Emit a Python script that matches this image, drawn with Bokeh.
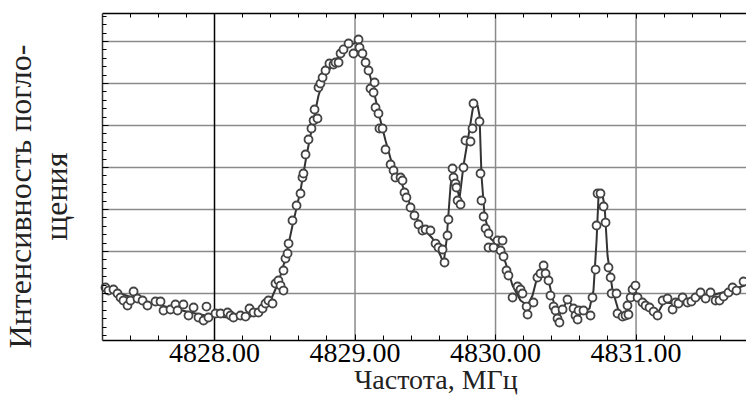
import math
from bokeh.plotting import figure
from bokeh.models import FixedTicker, LinearAxis, Range1d
from bokeh.core.properties import value
from bokeh.embed import file_html
from bokeh.resources import INLINE

# Measured points (frequency in MHz, intensity in arbitrary units)
pts_x = [4827.224, 4827.246, 4827.281, 4827.310, 4827.331, 4827.352, 4827.381, 4827.402, 4827.424, 4827.452,
         4827.488, 4827.523, 4827.580, 4827.616, 4827.637, 4827.687, 4827.722, 4827.737, 4827.779, 4827.815,
         4827.851, 4827.886, 4827.922, 4827.943, 4827.957, 4828.007, 4828.043, 4828.093, 4828.114, 4828.135,
         4828.185, 4828.221, 4828.249, 4828.278, 4828.313, 4828.342, 4828.363, 4828.384, 4828.413, 4828.434,
         4828.455, 4828.470, 4828.491, 4828.491, 4828.505, 4828.520, 4828.527, 4828.555, 4828.584, 4828.612,
         4828.626, 4828.633, 4828.648, 4828.669, 4828.690, 4828.705, 4828.733, 4828.712, 4828.740, 4828.754,
         4828.769, 4828.790, 4828.818, 4828.847, 4828.861, 4828.883, 4828.897, 4828.918, 4828.954, 4828.989,
         4829.025, 4829.032, 4829.053, 4829.075, 4829.096, 4829.110, 4829.139, 4829.132, 4829.146, 4829.167,
         4829.174, 4829.196, 4829.217, 4829.253, 4829.274, 4829.288, 4829.324, 4829.338, 4829.352, 4829.366,
         4829.395, 4829.423, 4829.452, 4829.480, 4829.502, 4829.537, 4829.573, 4829.594, 4829.623, 4829.637,
         4829.658, 4829.665, 4829.694, 4829.701, 4829.715, 4829.722, 4829.730, 4829.751, 4829.772, 4829.786,
         4829.822, 4829.836, 4829.843, 4829.886, 4829.893, 4829.900, 4829.915, 4829.929, 4829.950, 4829.950,
         4829.986, 4830.014, 4830.050, 4830.036, 4830.057, 4830.078, 4830.092, 4830.121, 4830.157, 4830.178,
         4830.192, 4830.221, 4830.228, 4830.270, 4830.298, 4830.320, 4830.342, 4830.356, 4830.377, 4830.391,
         4830.413, 4830.427, 4830.441, 4830.455, 4830.477, 4830.512, 4830.555, 4830.569, 4830.584, 4830.591,
         4830.626, 4830.676, 4830.690, 4830.712, 4830.719, 4830.726, 4830.747, 4830.769, 4830.783, 4830.804,
         4830.819, 4830.826, 4830.861, 4830.868, 4830.904, 4830.925, 4830.946, 4830.939, 4830.961, 4830.975,
         4830.996, 4831.011, 4831.046, 4831.068, 4831.096, 4831.125, 4831.153, 4831.189, 4831.224, 4831.260,
         4831.281, 4831.302, 4831.331, 4831.366, 4831.394, 4831.423, 4831.459, 4831.495, 4831.530, 4831.566,
         4831.594, 4831.623, 4831.658, 4831.687, 4831.715, 4831.765]
pts_y = [1.143, 1.071, 1.095, 1.000, 0.905, 0.833, 0.714, 0.833, 1.048, 0.881,
         0.833, 0.714, 0.810, 0.810, 0.595, 0.619, 0.738, 0.595, 0.738, 0.476,
         0.667, 0.429, 0.357, 0.690, 0.429, 0.524, 0.524, 0.548, 0.476, 0.429,
         0.476, 0.452, 0.643, 0.548, 0.548, 0.643, 0.762, 0.833, 0.762, 1.238,
         1.310, 1.190, 1.071, 1.548, 1.833, 1.952, 2.190, 2.738, 3.095, 3.381,
         3.762, 3.857, 4.310, 4.667, 4.929, 5.119, 5.167, 5.381, 5.905, 6.000,
         6.143, 6.310, 6.476, 6.452, 6.500, 6.500, 6.714, 6.810, 6.952, 6.714,
         7.048, 6.857, 6.714, 6.500, 6.310, 5.881, 6.024, 5.786, 5.429, 5.286,
         4.929, 4.929, 4.429, 4.071, 3.929, 3.762, 3.762, 3.690, 3.405, 3.286,
         3.048, 2.857, 2.643, 2.500, 2.524, 2.500, 2.190, 2.095, 2.048, 1.738,
         2.381, 2.762, 3.976, 3.762, 3.619, 3.524, 3.214, 3.119, 4.000, 4.643,
         4.619, 4.929, 5.524, 5.095, 3.857, 3.214, 2.833, 2.548, 2.429, 2.095,
         2.095, 2.262, 2.262, 2.024, 1.881, 1.548, 1.429, 0.905, 1.167, 1.095,
         1.000, 0.690, 0.500, 0.786, 1.381, 1.476, 1.667, 1.476, 1.310, 0.952,
         0.690, 0.595, 0.405, 0.310, 0.619, 0.857, 0.643, 0.476, 0.381, 0.595,
         0.595, 0.476, 0.905, 1.571, 2.619, 3.381, 3.381, 3.071, 2.690, 1.619,
         1.381, 1.000, 1.000, 0.524, 0.452, 0.476, 0.500, 0.714, 0.905, 1.095,
         1.190, 0.905, 0.786, 0.714, 0.667, 0.571, 0.476, 0.833, 0.881, 0.619,
         0.786, 0.762, 0.905, 0.786, 0.810, 0.905, 1.024, 0.881, 1.024, 0.833,
         0.833, 0.929, 1.024, 1.143, 1.071, 1.286]

# Smoothed curve through the points
fit_x = [4827.203, 4827.331, 4827.473, 4827.651, 4827.829, 4827.972, 4828.114, 4828.256, 4828.342, 4828.399,
         4828.455, 4828.505, 4828.555, 4828.612, 4828.655, 4828.697, 4828.740, 4828.790, 4828.861, 4828.932,
         4829.004, 4829.039, 4829.082, 4829.125, 4829.167, 4829.217, 4829.267, 4829.324, 4829.395, 4829.466,
         4829.552, 4829.608, 4829.630, 4829.651, 4829.680, 4829.701, 4829.722, 4829.744, 4829.772, 4829.808,
         4829.836, 4829.851, 4829.872, 4829.886, 4829.900, 4829.922, 4829.964, 4830.021, 4830.071, 4830.121,
         4830.178, 4830.228, 4830.263, 4830.298, 4830.335, 4830.370, 4830.406, 4830.448, 4830.477, 4830.512,
         4830.548, 4830.584, 4830.626, 4830.669, 4830.697, 4830.719, 4830.733, 4830.754, 4830.776, 4830.797,
         4830.833, 4830.875, 4830.918, 4830.954, 4830.989, 4831.032, 4831.103, 4831.153, 4831.196, 4831.281,
         4831.388, 4831.530, 4831.673, 4831.786]
fit_y = [1.143, 1.000, 0.833, 0.690, 0.548, 0.452, 0.429, 0.452, 0.595, 0.833,
         1.262, 1.833, 2.619, 3.452, 4.286, 5.000, 5.714, 6.190, 6.548, 6.833,
         6.976, 6.905, 6.500, 5.952, 5.310, 4.643, 4.048, 3.690, 3.095, 2.619,
         2.310, 1.905, 1.714, 2.262, 3.571, 3.976, 3.571, 3.262, 4.048, 4.762,
         5.357, 5.595, 5.476, 5.238, 3.810, 2.857, 2.310, 2.143, 1.738, 1.190,
         0.833, 0.714, 0.952, 1.405, 1.595, 1.429, 0.881, 0.452, 0.595, 0.881,
         0.690, 0.452, 0.548, 0.643, 1.071, 2.262, 3.333, 3.452, 3.095, 1.905,
         1.071, 0.595, 0.476, 0.786, 1.071, 0.881, 0.643, 0.524, 0.786, 0.762,
         0.833, 0.952, 1.071, 1.210]

x_ticks = [4828, 4829, 4830, 4831]
x_tick_labels = ["4828.00", "4829.00", "4830.00", "4831.00"]
y_ticks = [1, 2, 3, 4, 5, 6, 7]
x_title = "Частота, МГц"
y_title = "Интенсивность погло-\nщения"

# whole canvas extent (data units) and the plot-area limits
canvas_x = (4826.477, 4831.786)
canvas_y = (-1.452, 7.976)
x_left, x_right = 4827.203, canvas_x[1]
y_axis, y_top = -0.119, 7.667

# text anchors (data units)
tick_label_y = -0.405
x_title_pos = (4829.576, -1.048)
y_title_pos = (4826.744, 3.310)

x_minor = [round(4827.4 + 0.2 * i, 2) for i in range(23)]
y_minor = [round(0.2 * i, 2) for i in range(39)]

FONT = "Liberation Serif"

p = figure(width=746, height=396, output_backend="svg", toolbar_location=None,
           x_range=Range1d(*canvas_x), y_range=Range1d(*canvas_y),
           x_axis_location=None, y_axis_location=None, min_border=0)
p.background_fill_color = "white"
p.border_fill_color = "white"
p.outline_line_color = None
p.xgrid.visible = False
p.ygrid.visible = False

# grid lines inside the plot area
p.segment(x0=[x_left] * len(y_ticks), y0=y_ticks, x1=[x_right] * len(y_ticks), y1=y_ticks,
          line_color="#8a8a8a", line_width=1.5)
p.segment(x0=x_ticks[1:], y0=[y_axis] * 3, x1=x_ticks[1:], y1=[y_top] * 3,
          line_color="#8a8a8a", line_width=1.5)
p.segment(x0=x_ticks[:1], y0=[y_axis], x1=x_ticks[:1], y1=[y_top],
          line_color="black", line_width=1.5)

# axes fixed at the plot-area edges
def style_axis(ax, ticks, minor, tin, mtin):
    ax.ticker = FixedTicker(ticks=ticks, minor_ticks=minor)
    ax.major_label_overrides = {t: "" for t in ticks}
    ax.major_tick_in = tin
    ax.major_tick_out = 0
    ax.minor_tick_in = mtin
    ax.minor_tick_out = 0
    ax.axis_line_color = "black"
    ax.axis_line_width = 1.5
    ax.major_label_standoff = 0

bottom = LinearAxis(fixed_location=y_axis, bounds=(x_left, x_right))
style_axis(bottom, x_ticks, x_minor, 6, 5)
p.add_layout(bottom, "below")

top = LinearAxis(fixed_location=y_top, bounds=(x_left, x_right))
style_axis(top, x_ticks, x_minor, 5, 4)
p.add_layout(top, "above")

left = LinearAxis(fixed_location=x_left, bounds=(y_axis, y_top))
style_axis(left, y_ticks, y_minor, 6, 4)
left.axis_line_color = "#333333"
p.add_layout(left, "left")

# tick labels and titles
p.text(x=x_ticks, y=[tick_label_y] * len(x_ticks), text=x_tick_labels,
       text_font=value(FONT), text_font_size="28px", text_color="black",
       text_align="center", text_baseline="middle")
p.text(x=[x_title_pos[0]], y=[x_title_pos[1]], text=[x_title],
       text_font=value(FONT), text_font_size="28px", text_color="#222222",
       text_align="center", text_baseline="middle")
p.text(x=[y_title_pos[0]], y=[y_title_pos[1]], text=[y_title], angle=math.pi / 2,
       text_font=value(FONT), text_font_size="32px", text_color="#222222",
       text_align="center", text_baseline="middle", text_line_height=1.0)

# data
p.line(fit_x, fit_y, line_color="#333333", line_width=2)
p.scatter(pts_x, pts_y, marker="circle", size=8, line_color="#444444", line_width=1.8, fill_color="white")

open("out.html", "w").write(file_html(p, INLINE))
